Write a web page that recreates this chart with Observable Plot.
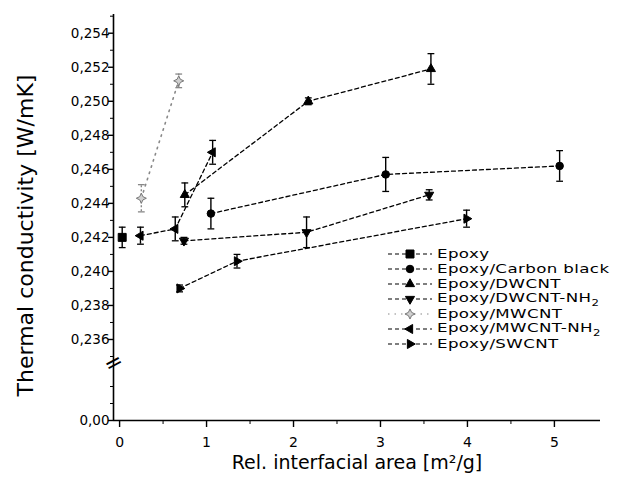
<!DOCTYPE html>
<html><head><meta charset="utf-8">
<script src="https://cdn.jsdelivr.net/npm/d3@7"></script>
<script src="https://cdn.jsdelivr.net/npm/@observablehq/plot@0.6"></script>
<style>
body{margin:0;background:#fff;}
#wrap{position:relative;width:619px;height:494px;font-family:"DejaVu Sans",sans-serif;color:#000;}
#legend{position:absolute;left:386px;top:246px;font-size:12.8px;line-height:14px;}
.row{display:flex;align-items:center;height:15px;white-space:nowrap;}
.row svg{width:48px;height:14px;flex:none;margin-right:3px;overflow:visible;}
.lbl{display:inline-block;transform:scaleX(1.3);transform-origin:0 50%;letter-spacing:0.3px;}
.sub{font-size:9px;position:relative;top:4px;}
</style></head><body><div id="wrap"></div>
<script>
// ---- data ----
const seriesNames = ["Epoxy","Epoxy/Carbon black","Epoxy/DWCNT","Epoxy/DWCNT-NH2","Epoxy/MWCNT","Epoxy/MWCNT-NH2","Epoxy/SWCNT"];
const epoxyX = [0.03];             const epoxyY = [0.2420];                 const epoxyErr = [0.0006];
const carbonX = [1.05, 3.06, 5.06]; const carbonY = [0.2434, 0.2457, 0.2462]; const carbonErr = [0.0009, 0.0010, 0.0009];
const dwcntX = [0.75, 2.17, 3.58];  const dwcntY = [0.2445, 0.2500, 0.2519];  const dwcntErr = [0.0007, 0.0002, 0.0009];
const dwcntNH2X = [0.74, 2.15, 3.56]; const dwcntNH2Y = [0.2418, 0.2423, 0.2445]; const dwcntNH2Err = [0.0002, 0.0009, 0.0003];
const mwcntX = [0.25, 0.68];        const mwcntY = [0.2443, 0.2512];          const mwcntErr = [0.0008, 0.0004];
const mwcntNH2X = [0.24, 0.64, 1.07]; const mwcntNH2Y = [0.2421, 0.2425, 0.2470]; const mwcntNH2Err = [0.0005, 0.0007, 0.0007];
const swcntX = [0.69, 1.35, 3.99];  const swcntY = [0.2390, 0.2406, 0.2431];  const swcntErr = [0.0002, 0.0004, 0.0005];
const xTicks = [0, 1, 2, 3, 4, 5];
const xMinorTicks = [0.5, 1.5, 2.5, 3.5, 4.5];
const yMajorTicks = [0, 0.236, 0.238, 0.240, 0.242, 0.244, 0.246, 0.248, 0.250, 0.252, 0.254];
const yMinorTicks = [0.001, 0.002, 0.235, 0.237, 0.239, 0.241, 0.243, 0.245, 0.247, 0.249, 0.251, 0.253, 0.255];
const xLabel = "Rel. interfacial area [m²/g]";
const yLabel = "Thermal conductivity [W/mK]";

// ---- build table ----
const seriesArrays = [
  [epoxyX, epoxyY, epoxyErr], [carbonX, carbonY, carbonErr], [dwcntX, dwcntY, dwcntErr],
  [dwcntNH2X, dwcntNH2Y, dwcntNH2Err], [mwcntX, mwcntY, mwcntErr], [mwcntNH2X, mwcntNH2Y, mwcntNH2Err],
  [swcntX, swcntY, swcntErr]
];
const table = [];
seriesNames.forEach((s, i) => {
  const [X, Y, E] = seriesArrays[i];
  X.forEach((x, j) => table.push({series: s, x, y: Y[j], err: E[j]}));
});

// ---- symbols ----
function rad(size) { return Math.sqrt(size / Math.PI); }
function tri(angle) {
  return {draw(ctx, size) {
    const r = rad(size) * 1.25;
    for (let k = 0; k < 3; k++) {
      const a = angle + k * 2 * Math.PI / 3;
      const px = r * Math.cos(a), py = r * Math.sin(a);
      if (k === 0) ctx.moveTo(px, py); else ctx.lineTo(px, py);
    }
    ctx.closePath();
  }};
}
const symSquare = {draw(ctx, size) { const r = rad(size) * 0.95; ctx.rect(-r, -r, 2 * r, 2 * r); }};
const symCircle = {draw(ctx, size) { const r = rad(size) * 0.9; ctx.moveTo(r, 0); ctx.arc(0, 0, r, 0, 2 * Math.PI); }};
const symStar = {draw(ctx, size) {
  const r = rad(size) * 1.2, ri = r * 0.45;
  for (let k = 0; k < 8; k++) {
    const a = -Math.PI / 2 + k * Math.PI / 4, rr = k % 2 ? ri : r;
    const px = rr * Math.cos(a), py = rr * Math.sin(a);
    if (k === 0) ctx.moveTo(px, py); else ctx.lineTo(px, py);
  }
  ctx.closePath();
}};
const symCap = {draw(ctx, size) { const r = rad(size); ctx.moveTo(-r, 0); ctx.lineTo(r, 0); }};
const symbols = [symSquare, symCircle, tri(-Math.PI / 2), tri(Math.PI / 2), symStar, tri(Math.PI), tri(0)];
const fills = ["black", "black", "black", "black", "#d0d0d0", "black", "black"];
const strokes = ["black", "black", "black", "black", "#777", "black", "black"];
const dashes = ["4,3", "4,3", "4,3", "4,3", "1.5,5", "4,3", "4,3"];

// ---- scales ----
const xDomain = [-0.07, 5.53];
const yDomain = [0, 0.003, 0.235, 0.2551];
const yRange = [420, 369, 356, 14];
const breakY = (yDomain[1] + yDomain[2]) / 2;
const fmt = d => d === 0 ? "0,00" : d.toFixed(3).replace(".", ",");

const marks = [
  Plot.ruleY([0], {strokeWidth: 1.6}),
  Plot.ruleX([xDomain[0]], {strokeWidth: 1.6}),
  Plot.axisX({ticks: xTicks, tickSize: 7, tickPadding: 10, fontSize: 14, tickFormat: d => String(d), label: null, strokeWidth: 1.4}),
  Plot.axisX({ticks: xMinorTicks, tickSize: 4, tickFormat: () => "", label: null}),
  Plot.axisY({ticks: yMajorTicks, tickSize: 5, tickPadding: -1, fontSize: 13.5, tickFormat: fmt, label: null, strokeWidth: 1.4}),
  Plot.axisY({ticks: yMinorTicks, tickSize: 3, tickFormat: () => "", label: null}),
  Plot.text([breakY], {x: xDomain[0], y: d => d, text: () => "=", rotate: -28, fontSize: 22, fill: "black"}),
  Plot.text([yLabel], {frameAnchor: "left", text: d => d, rotate: -90, dx: -88, dy: 18, fontSize: 22, fill: "black", textAnchor: "middle", lineAnchor: "middle"}),
  Plot.text([xLabel], {frameAnchor: "bottom", text: d => d, dy: 42, fontSize: 19, fill: "black", textAnchor: "middle", lineAnchor: "middle"})
];
seriesNames.forEach((s, i) => {
  const data = table.filter(d => d.series === s);
  const gray = i === 4;
  marks.push(
    Plot.line(data, {x: "x", y: "y", stroke: gray ? "#888" : "black", strokeWidth: gray ? 1.6 : 1.3, strokeDasharray: dashes[i]}),
    Plot.ruleX(data, {x: "x", y1: d => d.y - d.err, y2: d => d.y + d.err, stroke: gray ? "#888" : "black", strokeWidth: 1.4, strokeDasharray: gray ? "2,2" : null}),
    Plot.dot(data, {x: "x", y: d => d.y + d.err, symbol: symCap, r: 3.4, stroke: gray ? "#888" : "black", strokeWidth: 1.3}),
    Plot.dot(data, {x: "x", y: d => d.y - d.err, symbol: symCap, r: 3.4, stroke: gray ? "#888" : "black", strokeWidth: 1.3}),
    Plot.dot(data, {x: "x", y: "y", symbol: symbols[i], r: 4.2, fill: fills[i], stroke: strokes[i], strokeWidth: 1})
  );
});

const chart = Plot.plot({
  width: 619, height: 494,
  marginLeft: 113, marginRight: 19, marginTop: 14, marginBottom: 74,
  style: {fontFamily: "DejaVu Sans", fontSize: "13px", color: "black", background: "white"},
  x: {domain: xDomain, label: null},
  y: {type: "linear", domain: yDomain, range: yRange, label: null},
  marks
});
const wrap = document.getElementById("wrap");
wrap.appendChild(chart);

// ---- legend ----
const legend = document.createElement("div");
legend.id = "legend";
seriesNames.forEach((s, i) => {
  const row = document.createElement("div");
  row.className = "row";
  const svg = d3.create("svg").attr("width", 48).attr("height", 14);
  svg.append("line").attr("x1", 2).attr("x2", 46).attr("y1", 7).attr("y2", 7)
    .attr("stroke", i === 4 ? "#888" : "black").attr("stroke-width", 1.2).attr("stroke-dasharray", dashes[i]);
  const p = d3.path();
  symbols[i].draw(p, Math.PI * 4.2 * 4.2);
  svg.append("path").attr("d", p.toString()).attr("transform", "translate(24,7)")
    .attr("fill", fills[i]).attr("stroke", strokes[i]);
  row.appendChild(svg.node());
  const label = document.createElement("span");
  label.className = "lbl";
  const m = s.match(/^(.*NH)2$/);
  if (m) { label.textContent = m[1]; const sub = document.createElement("span"); sub.className = "sub"; sub.textContent = "2"; label.appendChild(sub); }
  else label.textContent = s;
  row.appendChild(label);
  legend.appendChild(row);
});
wrap.appendChild(legend);
</script></body></html>
